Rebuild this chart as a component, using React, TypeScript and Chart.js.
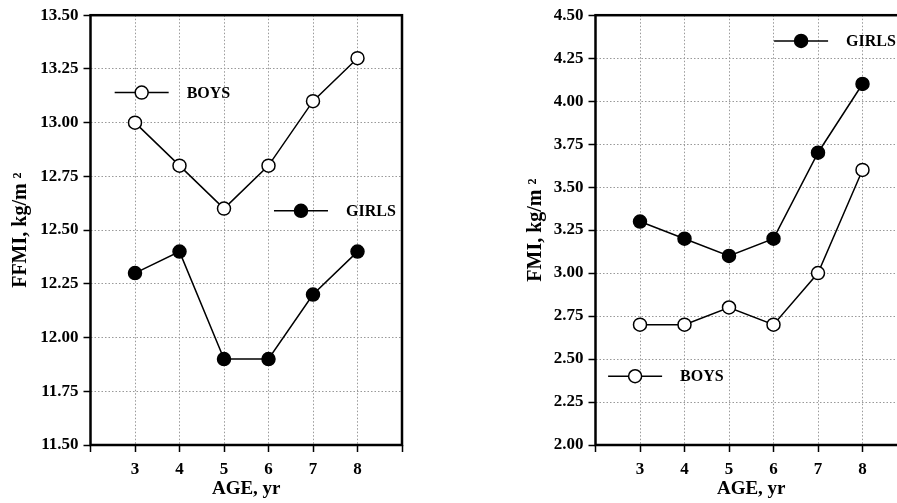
import React, { useEffect, useRef } from "react";
import { Chart, registerables } from "chart.js";

Chart.register(...registerables);

const ages = [3, 4, 5, 6, 7, 8];
const ffmiBoys = [13.0, 12.8, 12.6, 12.8, 13.1, 13.3];
const ffmiGirls = [12.3, 12.4, 11.9, 11.9, 12.2, 12.4];
const fmiGirls = [3.3, 3.2, 3.1, 3.2, 3.7, 4.1];
const fmiBoys = [2.7, 2.7, 2.8, 2.7, 3.0, 3.6];

const xLabel = "AGE, yr";
const leftTitle = "FFMI, kg/m ²";
const rightTitle = "FMI, kg/m ²";
const boysLabel = "BOYS";
const girlsLabel = "GIRLS";

const FONT = "'Liberation Serif', 'Times New Roman', serif";

type LegendItem = { label: string; filled: boolean; x: number; y: number };

const framePlugin = {
  id: "frame",
  beforeDatasetsDraw(chart: any) {
    const { ctx, chartArea } = chart;
    ctx.save();
    ctx.strokeStyle = "#000";
    ctx.lineWidth = 2.5;
    ctx.strokeRect(chartArea.left, chartArea.top, chartArea.right - chartArea.left, chartArea.bottom - chartArea.top);
    ctx.restore();
  },
  afterDatasetsDraw(chart: any, _args: any, opts: any) {
    const items: LegendItem[] = opts.items || [];
    const { ctx, scales } = chart;
    ctx.save();
    for (const it of items) {
      const px = scales.x.getPixelForValue(it.x);
      const py = scales.y.getPixelForValue(it.y);
      ctx.strokeStyle = "#000";
      ctx.lineWidth = 1.5;
      ctx.beginPath();
      ctx.moveTo(px - 27, py);
      ctx.lineTo(px + 27, py);
      ctx.stroke();
      ctx.beginPath();
      ctx.arc(px, py, 6.5, 0, Math.PI * 2);
      ctx.fillStyle = it.filled ? "#000" : "#fff";
      ctx.fill();
      ctx.stroke();
      ctx.fillStyle = "#000";
      ctx.font = `bold 16px ${FONT}`;
      ctx.textBaseline = "middle";
      ctx.textAlign = "left";
      ctx.fillText(it.label, px + 45, py + 1);
    }
    ctx.restore();
  },
};

function makeConfig(
  series: { label: string; data: number[]; filled: boolean }[],
  yMin: number,
  yMax: number,
  yTitle: string,
  yTitlePad: number,
  legendItems: LegendItem[]
): any {
  return {
    type: "line",
    data: {
      datasets: series.map((s) => ({
        label: s.label,
        data: ages.map((a, i) => ({ x: a, y: s.data[i] })),
        borderColor: "#000",
        borderWidth: 1.5,
        pointRadius: 6.5,
        pointHoverRadius: 6.5,
        pointBorderWidth: 1.5,
        pointBorderColor: "#000",
        pointBackgroundColor: s.filled ? "#000" : "#fff",
        tension: 0,
        fill: false,
      })),
    },
    options: {
      animation: false,
      responsive: false,
      maintainAspectRatio: false,
      layout: { padding: { top: 14, right: 18, left: 0, bottom: 0 } },
      plugins: {
        legend: { display: false },
        tooltip: { enabled: false },
        frame: { items: legendItems },
      },
      scales: {
        x: {
          type: "linear",
          min: 2,
          max: 9,
          afterFit: (s: any) => {
            s.height = 58;
          },
          ticks: {
            stepSize: 1,
            autoSkip: false,
            maxRotation: 0,
            padding: 7,
            color: "#000",
            font: { family: FONT, size: 17, weight: "bold" },
            callback: (v: number) => (v >= 3 && v <= 8 ? String(v) : ""),
          },
          grid: {
            color: (ctx: any) => (ctx.tick && (ctx.tick.value === 2 || ctx.tick.value === 9) ? "rgba(0,0,0,0)" : "#999"),
            lineWidth: 1,
            drawTicks: true,
            tickLength: 7,
            tickColor: "#000",
            tickWidth: 1.5,
            tickBorderDash: [],
          },
          border: { display: false, dash: [1.5, 2] },
          title: {
            display: true,
            text: xLabel,
            color: "#000",
            font: { family: FONT, size: 19, weight: "bold" },
            padding: { top: 0, bottom: 3 },
          },
        },
        y: {
          type: "linear",
          min: yMin,
          max: yMax,
          afterFit: (s: any) => {
            s.width = 90.5;
          },
          ticks: {
            stepSize: 0.25,
            padding: 5,
            color: "#000",
            font: { family: FONT, size: 17, weight: "bold" },
            callback: (v: number) => v.toFixed(2),
          },
          grid: {
            color: "#999",
            lineWidth: 1,
            drawTicks: true,
            tickLength: 7,
            tickColor: "#000",
            tickWidth: 1.5,
            tickBorderDash: [],
          },
          border: { display: false, dash: [1.5, 2] },
          title: {
            display: true,
            text: yTitle,
            color: "#000",
            font: { family: FONT, size: 20, weight: "bold" },
            padding: { top: yTitlePad, bottom: 0 },
          },
        },
      },
    },
    plugins: [framePlugin],
  };
}

function Panel({ left, config }: { left: number; config: any }) {
  const ref = useRef<HTMLCanvasElement | null>(null);
  useEffect(() => {
    if (!ref.current) return;
    const chart = new Chart(ref.current, config);
    return () => chart.destroy();
  }, []);
  return (
    <canvas
      ref={ref}
      width={420}
      height={503}
      style={{ position: "absolute", left, top: 0, width: 420, height: 503 }}
    />
  );
}

export default function App() {
  const leftCfg = makeConfig(
    [
      { label: boysLabel, data: ffmiBoys, filled: false },
      { label: girlsLabel, data: ffmiGirls, filled: true },
    ],
    11.5,
    13.5,
    leftTitle,
    9,
    [
      { label: boysLabel, filled: false, x: 3.15, y: 13.14 },
      { label: girlsLabel, filled: true, x: 6.73, y: 12.59 },
    ]
  );
  const rightCfg = makeConfig(
    [
      { label: girlsLabel, data: fmiGirls, filled: true },
      { label: boysLabel, data: fmiBoys, filled: false },
    ],
    2.0,
    4.5,
    rightTitle,
    19,
    [
      { label: girlsLabel, filled: true, x: 6.62, y: 4.35 },
      { label: boysLabel, filled: false, x: 2.89, y: 2.4 },
    ]
  );
  return (
    <div
      style={{
        position: "fixed",
        left: 0,
        top: 0,
        width: 897,
        height: 503,
        overflow: "hidden",
        background: "#fff",
      }}
    >
      <Panel left={0} config={leftCfg} />
      <Panel left={505} config={rightCfg} />
    </div>
  );
}
